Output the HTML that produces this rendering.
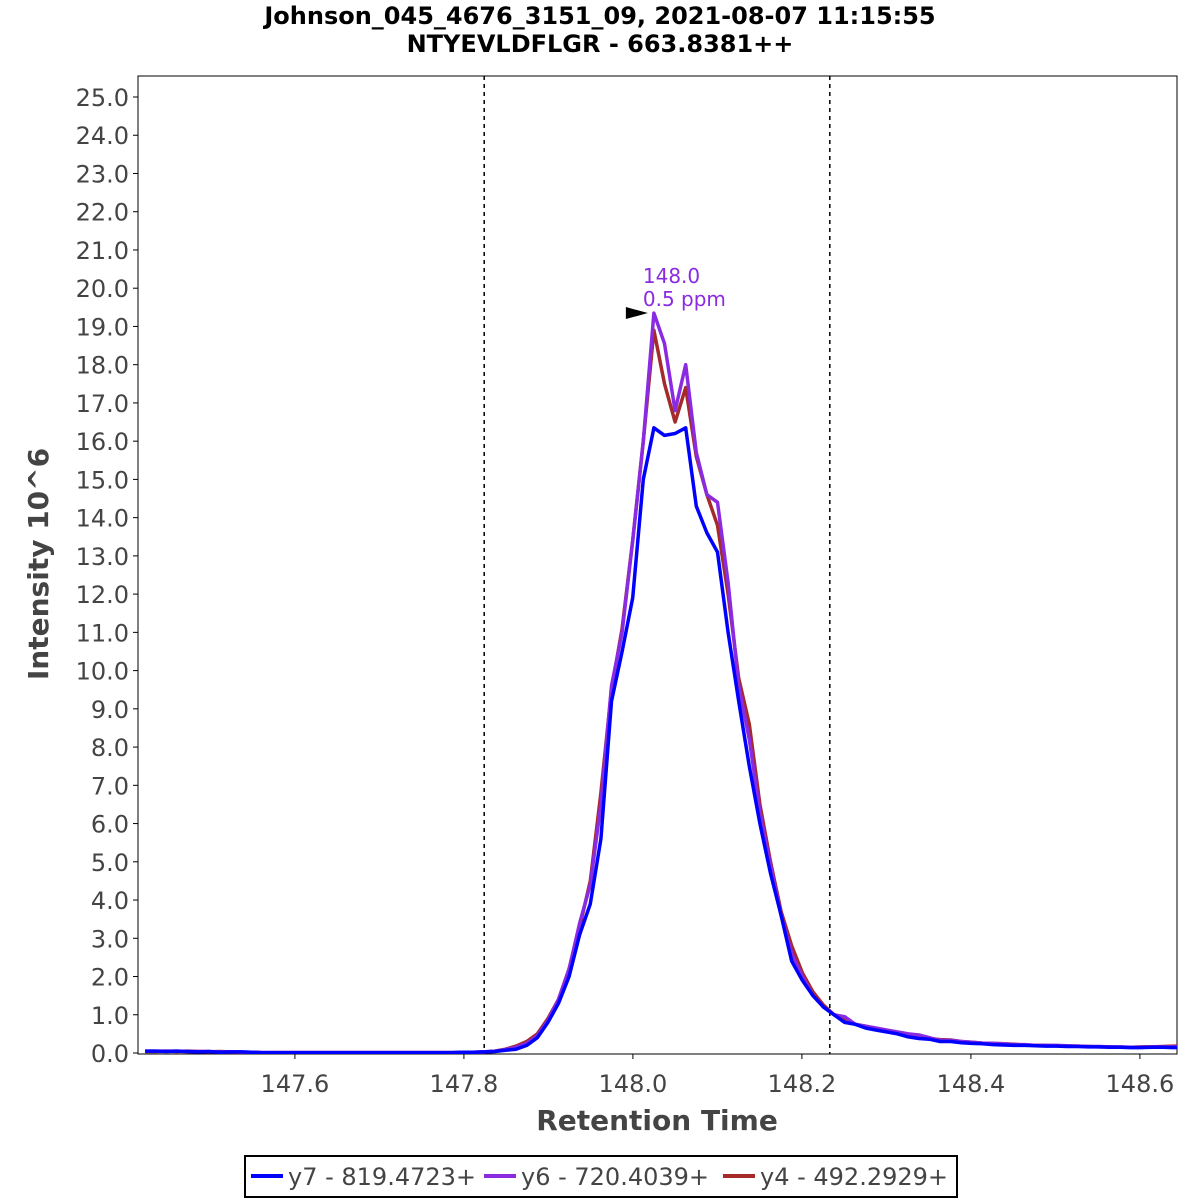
<!DOCTYPE html>
<html><head><meta charset="utf-8"><style>
html,body{margin:0;padding:0;background:#fff;}
svg{display:block;font-family:"DejaVu Sans","Liberation Sans",sans-serif;}
</style></head><body>
<svg id="chart" width="1200" height="1200" viewBox="0 0 1200 1200" xmlns="http://www.w3.org/2000/svg">
<text x="600" y="24" text-anchor="middle" font-size="24" font-weight="bold" fill="#000">Johnson_045_4676_3151_09, 2021-08-07 11:15:55</text>
<text x="600" y="52" text-anchor="middle" font-size="24" font-weight="bold" fill="#000">NTYEVLDFLGR - 663.8381++</text>
<defs><clipPath id="pc"><rect x="138" y="76" width="1039" height="978"/></clipPath></defs>
<rect x="138" y="76" width="1039" height="978" fill="#fff" stroke="#000" stroke-width="1"/>
<g id="yticks"></g><g id="xticks"></g>
<g id="series" clip-path="url(#pc)"></g>
<text transform="translate(48,564) rotate(-90)" text-anchor="middle" font-size="28" font-weight="bold" fill="#444">Intensity 10^6</text>
<text x="657" y="1130" text-anchor="middle" font-size="28" font-weight="bold" fill="#444">Retention Time</text>
<g>
<rect x="245" y="1156" width="712" height="41" fill="#fff" stroke="#000" stroke-width="2"/>
<line x1="251" y1="1176" x2="283" y2="1176" stroke="#0000ff" stroke-width="4"/>
<text x="288" y="1185" font-size="24" fill="#444">y7 - 819.4723+</text>
<line x1="484" y1="1176" x2="516" y2="1176" stroke="#8a2be2" stroke-width="4"/>
<text x="521" y="1185" font-size="24" fill="#444">y6 - 720.4039+</text>
<line x1="723" y1="1176" x2="755" y2="1176" stroke="#a52a2a" stroke-width="4"/>
<text x="760" y="1185" font-size="24" fill="#444">y4 - 492.2929+</text>
</g>
</svg>
<script>
const t0 = 147.4227, dt = 0.012544;
const yTicks = [0,1,2,3,4,5,6,7,8,9,10,11,12,13,14,15,16,17,18,19,20,21,22,23,24,25];
const xTicks = [147.6,147.8,148.0,148.2,148.4,148.6];
const boundaries = [147.824,148.233];
const seriesNames = ["y4","y6","y7"];
const y7 = [0.05,0.05,0.04,0.05,0.04,0.03,0.04,0.02,0.03,0.03,0.02,0.01,0.01,0.01,0.01,0.01,0.01,0.01,0.01,0.01,0.01,0.01,0.01,0.01,0.01,0.01,0.01,0.01,0.01,0.01,0.02,0.02,0.03,0.04,0.07,0.1,0.2,0.4,0.8,1.3,2.0,3.1,3.9,5.6,9.2,10.5,11.9,15.0,16.35,16.15,16.2,16.35,14.3,13.6,13.1,11.0,9.2,7.5,6.0,4.7,3.6,2.4,1.9,1.5,1.2,1.0,0.8,0.75,0.65,0.6,0.55,0.5,0.42,0.38,0.36,0.3,0.3,0.27,0.25,0.24,0.22,0.21,0.2,0.2,0.19,0.18,0.18,0.17,0.17,0.16,0.16,0.15,0.15,0.14,0.14,0.15,0.15,0.14,0.15];
const y6 = [0.05,0.05,0.05,0.05,0.04,0.04,0.04,0.03,0.03,0.03,0.02,0.01,0.01,0.01,0.01,0.01,0.01,0.01,0.01,0.01,0.01,0.01,0.01,0.01,0.01,0.01,0.01,0.01,0.01,0.01,0.02,0.02,0.03,0.05,0.09,0.15,0.25,0.45,0.85,1.4,2.2,3.4,4.4,6.5,9.6,11.0,13.4,16.0,19.35,18.55,16.8,18.0,15.7,14.6,14.4,12.3,9.6,8.2,6.3,4.9,3.6,2.6,2.0,1.5,1.2,1.0,0.95,0.75,0.7,0.65,0.6,0.55,0.5,0.47,0.4,0.33,0.33,0.3,0.28,0.26,0.25,0.24,0.22,0.22,0.2,0.2,0.2,0.19,0.18,0.17,0.17,0.16,0.16,0.15,0.15,0.16,0.16,0.16,0.17];
const y4 = [0.04,0.04,0.05,0.04,0.05,0.04,0.03,0.04,0.03,0.02,0.02,0.01,0.01,0.01,0.01,0.01,0.01,0.01,0.01,0.01,0.01,0.01,0.01,0.01,0.01,0.01,0.01,0.01,0.01,0.01,0.02,0.02,0.03,0.05,0.1,0.18,0.3,0.5,0.9,1.4,2.2,3.3,4.5,6.8,9.5,11.1,13.4,16.0,18.9,17.5,16.5,17.4,15.6,14.6,13.8,12.0,9.8,8.6,6.5,5.0,3.7,2.8,2.1,1.6,1.25,1.0,0.9,0.75,0.7,0.62,0.58,0.52,0.47,0.44,0.38,0.35,0.34,0.3,0.28,0.26,0.25,0.24,0.23,0.21,0.2,0.2,0.19,0.18,0.18,0.17,0.16,0.16,0.15,0.15,0.16,0.16,0.17,0.18,0.18];
const labelTime = "148.0", labelPpm = "0.5 ppm";

const NS="http://www.w3.org/2000/svg";
const L=138,R=1177,T=76,B=1054;
const xMin=147.4143, xMax=148.6439;
const X=v=>L+(v-xMin)/(xMax-xMin)*(R-L);
const Y=v=>1053-v*38.24;
function mk(tag,attrs,parent){const e=document.createElementNS(NS,tag);for(const k in attrs)e.setAttribute(k,attrs[k]);parent.appendChild(e);return e;}
const yg=document.getElementById('yticks'),xg=document.getElementById('xticks'),sg=document.getElementById('series');
yTicks.forEach(v=>{
  const l=mk('line',{x1:L-5,x2:L,y1:Y(v),y2:Y(v),stroke:'#000'},yg);
  
  
  const t=mk('text',{x:L-9,y:Y(v)+9,'text-anchor':'end','font-size':24,fill:'#444'},yg);
  
  
  t.textContent=v.toFixed(1);
});
xTicks.forEach(v=>{
  const l=mk('line',{x1:X(v),x2:X(v),y1:B,y2:B+5,stroke:'#000'},xg);
  
  
  const t=mk('text',{x:X(v),y:B+38,'text-anchor':'middle','font-size':24,fill:'#444'},xg);
  
  
  t.textContent=v.toFixed(1);
});
boundaries.forEach(v=>{
  const l=mk('line',{x1:X(v),x2:X(v),y1:T,y2:B,stroke:'#000','stroke-width':1.5,'stroke-dasharray':'4,4'},sg);
  
  
});
const data={y4:y4,y6:y6,y7:y7};
const colors={y4:'#a52a2a',y6:'#8a2be2',y7:'#0000ff'};
seriesNames.forEach(n=>{
  const pts=data[n].map((v,i)=>X(t0+i*dt).toFixed(1)+','+Y(v).toFixed(1)).join(' ');
  const p=mk('polyline',{points:pts,fill:'none',stroke:colors[n],'stroke-width':3.5,'stroke-linejoin':'round'},sg);
  
  
});
let mi=0;y6.forEach((v,i)=>{if(v>y6[mi])mi=i;});
const ax=X(t0+mi*dt),ay=Y(y6[mi]);
const arr=mk('polygon',{points:`${ax-28},${ay-6} ${ax-6},${ay} ${ax-28},${ay+6}`,fill:'#000'},sg);


const a1=mk('text',{x:ax-11,y:ay-30,'font-size':20,fill:'#8a2be2'},document.getElementById('chart'));


a1.textContent=labelTime;
const a2=mk('text',{x:ax-11,y:ay-7,'font-size':20,fill:'#8a2be2'},document.getElementById('chart'));


a2.textContent=labelPpm;
</script>
</body></html>
